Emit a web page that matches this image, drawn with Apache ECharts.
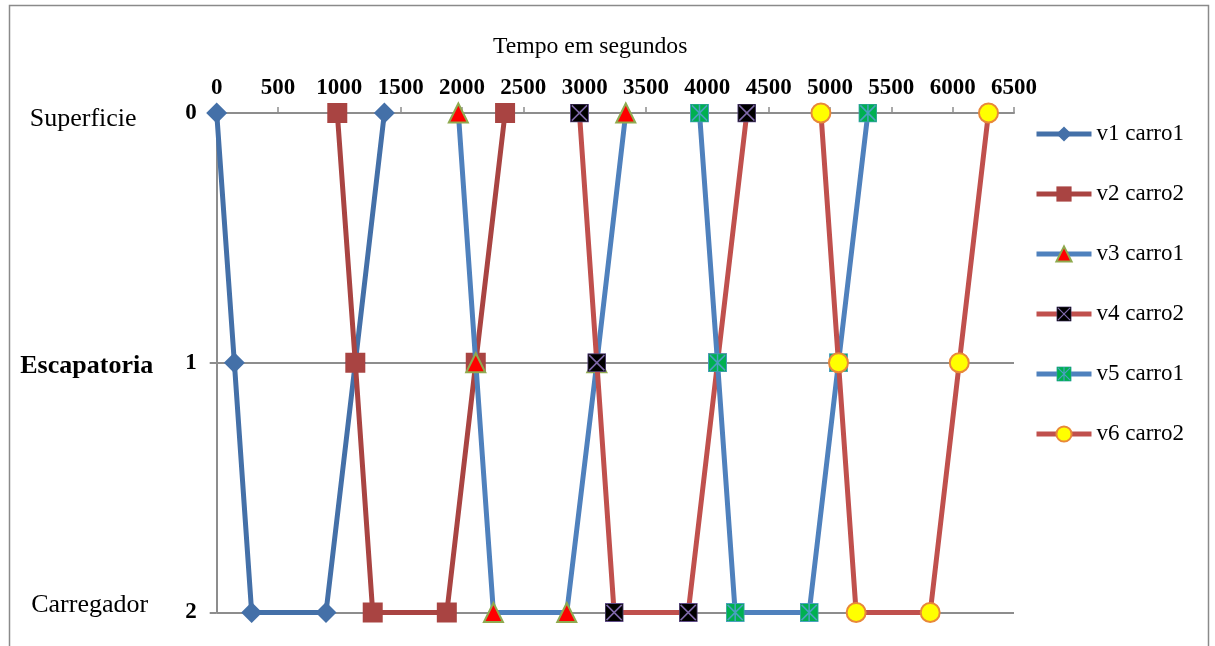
<!DOCTYPE html>
<html>
<head>
<meta charset="utf-8">
<style>
  html, body { margin: 0; padding: 0; background: #fff; }
  #chart { width: 1215px; height: 646px; }
</style>
<script src="https://cdn.jsdelivr.net/npm/echarts@6/dist/echarts.min.js"></script>
</head>
<body>
<div id="chart"></div>
<script>
// Time (seconds) at each stop of every trip; levels follow the same order for all trips.
const levelSequence = [0, 1, 2, 2, 1, 0];
const v1Times = [0, 144, 285, 891, 1130, 1367];
const v2Times = [983, 1130, 1272, 1876, 2112, 2351];
const v3Times = [1970, 2112, 2256, 2854, 3099, 3335];
const v4Times = [2957, 3099, 3240, 3844, 4083, 4322];
const v5Times = [3936, 4083, 4227, 4830, 5069, 5309];
const v6Times = [4926, 5069, 5213, 5817, 6054, 6292];
const seriesNames = ['v1 carro1', 'v2 carro2', 'v3 carro1', 'v4 carro2', 'v5 carro1', 'v6 carro2'];
const levelNames = ['Superficie', 'Escapatoria', 'Carregador'];
const timeMin = 0, timeMax = 6500, timeStep = 500;
const axisTitle = 'Tempo em segundos';

const serif = '"Liberation Serif", "Times New Roman", serif';
const gridColor = '#8d8d8d';

function svgSymbol(svg) {
  return 'image://data:image/svg+xml;charset=utf-8,' + encodeURIComponent(svg);
}
const crossSquare = svgSymbol(
  "<svg xmlns='http://www.w3.org/2000/svg' width='40' height='40' viewBox='0 0 20 20'>" +
  "<rect x='0.5' y='0.5' width='19' height='19' fill='#000000' stroke='#5f4b8b' stroke-width='1'/>" +
  "<path d='M2 2L18 18M18 2L2 18' stroke='#7e68a8' stroke-width='1.6'/></svg>");
const starSquare = svgSymbol(
  "<svg xmlns='http://www.w3.org/2000/svg' width='40' height='40' viewBox='0 0 20 20'>" +
  "<rect x='0.5' y='0.5' width='19' height='19' fill='#00b050' stroke='#4a9fc0' stroke-width='1'/>" +
  "<path d='M2 2L18 18M18 2L2 18M10 1L10 19' stroke='#4a9fc0' stroke-width='1.6'/></svg>");

function pairs(times) {
  return times.map((t, i) => [t, levelSequence[i]]);
}

const styles = [
  { line: '#4470a8', symbol: 'diamond', size: 21, fill: '#4470a8', border: '#4470a8', bw: 0 },
  { line: '#a94442', symbol: 'rect', size: 20, fill: '#a94442', border: '#a94442', bw: 0 },
  { line: '#4f81bd', symbol: 'triangle', size: 19, fill: '#ff0000', border: '#8faa4f', bw: 2 },
  { line: '#c0504d', symbol: crossSquare, size: 19, fill: '#000', border: '#000', bw: 0 },
  { line: '#4f81bd', symbol: starSquare, size: 19, fill: '#00b050', border: '#4a9fc0', bw: 0 },
  { line: '#c0504d', symbol: 'circle', size: 19, fill: '#ffff00', border: '#e8883a', bw: 2 }
];
const allTimes = [v1Times, v2Times, v3Times, v4Times, v5Times, v6Times];

const series = allTimes.map((times, i) => ({
  name: seriesNames[i],
  type: 'line',
  data: pairs(times),
  symbol: styles[i].symbol,
  symbolSize: styles[i].size,
  showSymbol: true,
  lineStyle: { color: styles[i].line, width: 5 },
  itemStyle: { color: styles[i].fill, borderColor: styles[i].border, borderWidth: styles[i].bw },
  emphasis: { disabled: true },
  z: 2 + i
}));

const nameRich = {
  s: { fontFamily: serif, fontSize: 26, color: '#000', padding: [12, 7, 0, 0] },
  e: { fontFamily: serif, fontSize: 26, fontWeight: 'bold', color: '#000', padding: [8, 0, 0, 0] },
  c: { fontFamily: serif, fontSize: 26, color: '#000', padding: [0, 0, 14, 6] }
};
const richKeys = ['s', 'e', 'c'];

const chart = echarts.init(document.getElementById('chart'), null, { renderer: 'canvas' });
chart.setOption({
  animation: false,
  backgroundColor: '#ffffff',
  title: {
    text: axisTitle,
    left: 488,
    top: 30,
    textStyle: { fontFamily: serif, fontSize: 23.7, fontWeight: 'normal', color: '#000' }
  },
  graphic: [{
    type: 'rect',
    shape: { x: 9.5, y: 5.5, width: 1199, height: 700 },
    style: { fill: 'none', stroke: '#8a8a8a', lineWidth: 1.5 },
    silent: true,
    z: -10
  }],
  grid: { left: 216.7, right: 201, top: 113, bottom: 33.5, containLabel: false },
  xAxis: {
    type: 'value',
    position: 'top',
    min: timeMin, max: timeMax, interval: timeStep,
    axisLine: { show: true, lineStyle: { color: gridColor, width: 2 } },
    axisTick: { show: true, length: 6, lineStyle: { color: gridColor, width: 1.5 } },
    splitLine: { show: false },
    axisLabel: {
      fontFamily: serif, fontSize: 23, fontWeight: 'bold', color: '#000', margin: 13,
      formatter: v => String(v)
    }
  },
  yAxis: [{
    type: 'value',
    inverse: true,
    min: 0, max: 2, interval: 1,
    axisLine: { show: true, lineStyle: { color: gridColor, width: 2 } },
    axisTick: { show: true, length: 7, lineStyle: { color: gridColor, width: 2 } },
    splitLine: { show: true, lineStyle: { color: gridColor, width: 2 } },
    axisLabel: { fontFamily: serif, fontSize: 23, fontWeight: 'bold', color: '#000', margin: 20 }
  }, {
    type: 'value',
    inverse: true,
    position: 'left',
    min: 0, max: 2, interval: 1,
    axisLine: { show: false },
    axisTick: { show: false },
    splitLine: { show: false },
    axisLabel: {
      margin: 130,
      align: 'center',
      formatter: v => '{' + richKeys[v] + '|' + levelNames[v] + '}',
      rich: nameRich
    }
  }],
  legend: {
    orient: 'vertical',
    left: 1034,
    top: 122.5,
    padding: 0,
    itemWidth: 55,
    itemHeight: 19,
    itemGap: 37,
    selectedMode: false,
    data: seriesNames,
    lineStyle: { width: 5 },
    textStyle: { fontFamily: serif, fontSize: 23, color: '#000' }
  },
  series: series
});
</script>
</body>
</html>
